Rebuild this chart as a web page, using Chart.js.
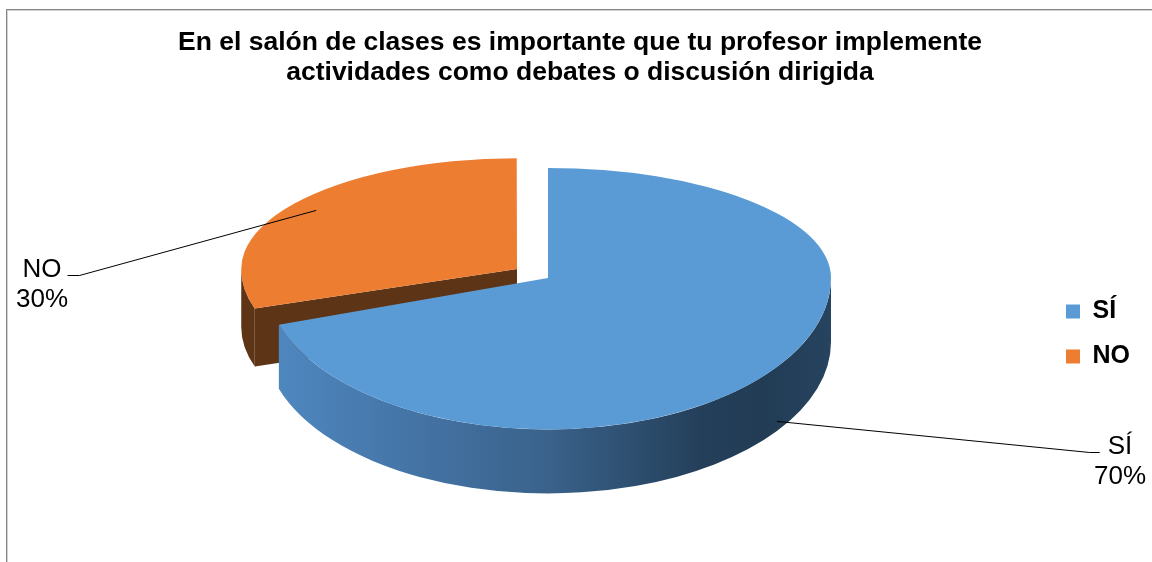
<!DOCTYPE html>
<html><head><meta charset="utf-8">
<script src="https://cdn.jsdelivr.net/npm/chart.js@4.4.1/dist/chart.umd.min.js"></script>
<style>html,body{margin:0;padding:0;background:#fff;overflow:hidden}#wrap{width:1152px;height:562px}</style>
</head><body><div id="wrap"><canvas id="c" width="1152" height="562"></canvas></div>
<script>
// ---- data ----
const categories = ['SÍ', 'NO'];
const values = [70, 30];
const titleLines = ['En el salón de clases es importante que tu profesor implemente',
                    'actividades como debates o discusión dirigida'];
const topColors = ['#5B9BD5', '#ED7D31'];
const explode = [0, 153];

// ---- view / style ----
const VIEW = {cx: 548, cy: 278, k1: 0.389};
const kLow = [0.535, 0.45];     // vertical squash of the near half, per slice (perspective)
const xSquash = [1, 0.968];     // horizontal squash per slice (perspective)
const depths = [64, 58];
const labelSpots = [{x: 1120, y: 454}, {x: 42, y: 277}];
const LABEL_FONT = '26px "Liberation Sans", Arial, sans-serif';
const W = 1152, H = 562;

function geom(a, i) {
  const off = (a.options.offset || 0) / 4;
  const mid = (a.startAngle + a.endAngle) / 2;
  const vx = Math.cos(mid) * off, vy = Math.sin(mid) * off;
  const fix = 1 - Math.sin(Math.min(Math.PI, a.endAngle - a.startAngle));
  const r = a.outerRadius + off * fix;
  const k2 = kLow[i], xs = xSquash[i];
  const sx = Math.round(VIEW.cx + vx);
  const sy = Math.round(VIEW.cy + vy * (vy < 0 ? VIEW.k1 : k2));
  return {vx, vy, r, xs, sx, sy, k2, D: depths[i], st: a.startAngle, en: a.endAngle, mid};
}
function proj(g, t, rr, d) {
  const s = Math.sin(t);
  return {x: g.sx + rr * g.xs * Math.cos(t), y: g.sy + rr * s * (s < 0 ? VIEW.k1 : g.k2) + d};
}
function sideFill(ctx, i, g) {
  if (i === 0) {
    const gr = ctx.createLinearGradient(g.sx - g.r, 0, g.sx + g.r, 0);
    gr.addColorStop(0, '#4f89c1');
    gr.addColorStop(0.22, '#4677aa');
    gr.addColorStop(0.5, '#3a628b');
    gr.addColorStop(0.77, '#243f5a');
    gr.addColorStop(0.88, '#223c55');
    gr.addColorStop(1, '#26435f');
    return gr;
  }
  return '#5E3416';
}

const pie3d = {
  id: 'pie3d',
  beforeDraw(chart) {
    const ctx = chart.ctx;
    ctx.save();
    ctx.lineWidth = 1;
    ctx.strokeStyle = '#868686';
    ctx.strokeRect(6.5, 9.5, W + 20, H + 20);
    ctx.strokeStyle = '#d2d2d2';
    ctx.strokeRect(7.5, 10.5, W + 20, H + 20);
    ctx.restore();
  },
  beforeDatasetsDraw(chart) {
    const ctx = chart.ctx;
    const meta = chart.getDatasetMeta(0);
    const items = meta.data.map((a, i) => ({a, i, g: geom(a, i)}));
    items.sort((p, q) => p.g.sy - q.g.sy);
    items.forEach(({a, i, g}) => {
      const D = g.D;
      ctx.save();
      ctx.fillStyle = sideFill(ctx, i, g);
      const face = (t) => {
        const p0 = proj(g, t, 0, 0), p1 = proj(g, t, g.r, 0);
        ctx.beginPath();
        ctx.moveTo(p0.x, p0.y); ctx.lineTo(p1.x, p1.y);
        ctx.lineTo(p1.x, p1.y + D); ctx.lineTo(p0.x, p0.y + D);
        ctx.closePath(); ctx.fill();
      };
      if (Math.cos(g.st) < -1e-6) face(g.st);
      if (Math.cos(g.en) > 1e-6) face(g.en);
      [[0, Math.PI], [2 * Math.PI, 3 * Math.PI]].forEach(([lo, hi]) => {
        const a1 = Math.max(g.st, lo), a2 = Math.min(g.en, hi);
        if (a2 > a1) {
          ctx.beginPath();
          ctx.ellipse(g.sx, g.sy, g.r * g.xs, g.r * g.k2, 0, a1, a2, false);
          ctx.ellipse(g.sx, g.sy + D, g.r * g.xs, g.r * g.k2, 0, a2, a1, true);
          ctx.closePath(); ctx.fill();
        }
      });
      ctx.restore();
      [[0, g.sy, VIEW.k1], [g.sy, H, g.k2]].forEach(([y0, y1, k]) => {
        ctx.save();
        ctx.beginPath(); ctx.rect(0, y0, W, y1 - y0); ctx.clip();
        ctx.translate(g.sx, g.sy); ctx.scale(g.xs, k);
        ctx.translate(-(a.x + g.vx), -(a.y + g.vy));
        a.draw(ctx);
        ctx.restore();
      });
    });
    return false;
  },
  afterDraw(chart) {
    const ctx = chart.ctx;
    const meta = chart.getDatasetMeta(0);
    const total = values.reduce((s, v) => s + v, 0);
    ctx.save();
    ctx.font = LABEL_FONT;
    ctx.fillStyle = '#000';
    ctx.strokeStyle = '#000';
    ctx.lineWidth = 1;
    ctx.textAlign = 'center';
    ctx.textBaseline = 'alphabetic';
    meta.data.forEach((a, i) => {
      const g = geom(a, i);
      const spot = labelSpots[i];
      const s = Math.sin(g.mid);
      const anc = s > 0 ? proj(g, g.mid, g.r, g.D * 0.85) : proj(g, g.mid, g.r * 0.9, 0);
      const l1 = categories[i], l2 = Math.round(values[i] / total * 100) + '%';
      ctx.fillText(l1, spot.x, spot.y);
      ctx.fillText(l2, spot.x, spot.y + 30);
      const w = ctx.measureText(l1).width;
      const ly = spot.y - 1.5;
      let sx0, sx1;
      if (spot.x < g.sx) { sx0 = spot.x + w / 2 + 6; sx1 = sx0 + 12; }
      else { sx0 = spot.x - w / 2 - 8; sx1 = sx0 - 10; }
      ctx.beginPath();
      ctx.moveTo(sx0, ly); ctx.lineTo(sx1, ly); ctx.lineTo(anc.x, anc.y);
      ctx.stroke();
    });
    ctx.restore();
  }
};

new Chart(document.getElementById('c'), {
  type: 'pie',
  data: {
    labels: categories,
    datasets: [{
      data: values,
      backgroundColor: topColors,
      borderWidth: 0,
      offset: explode
    }]
  },
  options: {
    responsive: false,
    animation: false,
    events: [],
    devicePixelRatio: 1,
    radius: 283,
    layout: {padding: {left: 20, right: 12, top: 0, bottom: 0}},
    plugins: {
      title: {
        display: true,
        text: titleLines,
        color: '#000',
        font: {family: '"Liberation Sans", Arial, sans-serif', size: 26.5, weight: 'bold', lineHeight: 1.132},
        padding: {top: 28, bottom: 20}
      },
      legend: {
        position: 'right',
        title: {display: true, text: ' ', font: {size: 10, lineHeight: 1}, padding: {top: 0, bottom: 96}},
        labels: {
          color: '#000',
          boxWidth: 14,
          boxHeight: 14,
          padding: 20,
          font: {family: '"Liberation Sans", Arial, sans-serif', size: 25, weight: 'bold'}
        }
      },
      tooltip: {enabled: false}
    }
  },
  plugins: [pie3d]
});
</script>
</body></html>
